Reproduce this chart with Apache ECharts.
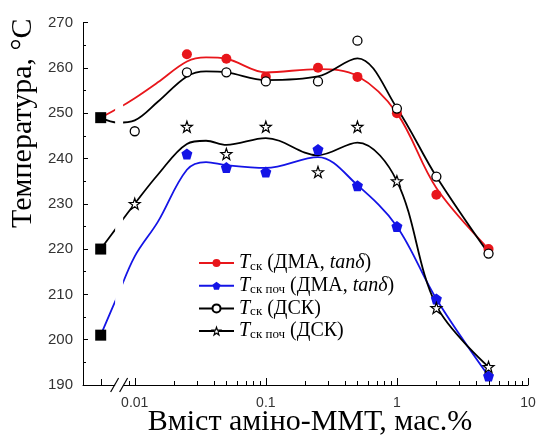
<!DOCTYPE html>
<html><head><meta charset="utf-8">
<script src="https://cdn.jsdelivr.net/npm/echarts@6/dist/echarts.min.js"></script>
<style>html,body{margin:0;padding:0;background:#fff}#c{width:538px;height:436px}</style>
</head><body><div id="c"></div>
<script>
// ---- data ----
const xZero = 0.0055;                 // position used for the unfilled sample (left of the axis break)
const breakAt = 0.0076;               // axis break position
const xValues = [0.01, 0.025, 0.05, 0.1, 0.25, 0.5, 1, 2, 5];
const tgDma      = [null, 263, 262, 258, 260, 258, 250, 232, 220];
const tgOnsetDma = [null, 241, 238, 237, 242, 234, 225, 209, 192];
const tgDsc      = [246, 259, 259, 257, 257, 266, 251, 236, 219];
const tgOnsetDsc = [230, 247, 241, 247, 237, 247, 235, 207, 194];
const neatValues = [249, 220, 201];
// fitted curves
const fitX          = [0.0055, 0.0074, 0.01, 0.015, 0.025, 0.035, 0.05, 0.1, 0.25, 0.5, 1, 2, 5];
const fitTgDma      = [249, 251, 253.3, 256.8, 261.4, 262.3, 262.0, 259.0, 259.7, 258.2, 250.0, 233.5, 220];
const fitTgOnsetDma = [201, 209.7, 218.4, 226, 237.5, 239.2, 238.5, 237.9, 240.3, 234.1, 225, 209, 192];
const fitTgDsc      = [249, 247.9, 248.4, 252.5, 258.1, 259.2, 259.0, 257.3, 258.1, 262.1, 251.1, 236, 219];
const fitTgOnsetDsc = [220, 225, 230, 236.4, 243.2, 243.9, 243.0, 244.5, 240.7, 243.5, 235, 207.5, 194];
const yMin = 190, yMax = 270, yStep = 10;
const xMin = 0.00403, xMax = 10;
const xTickLabels = ['0.01', '0.1', '1', '10'];
const xMajorTicks = [0.01, 0.1, 1, 10];
const xMinorTicks = [0.009, 0.02, 0.03, 0.04, 0.05, 0.06, 0.07, 0.08, 0.09,
  0.2, 0.3, 0.4, 0.5, 0.6, 0.7, 0.8, 0.9, 2, 3, 4, 5, 6, 7, 8, 9];
const seriesNames = ['Tск (ДМА, tanδ)', 'Tск поч (ДМА, tanδ)', 'Tск (ДСК)', 'Tск поч (ДСК)'];
const legendRich = [
  '{i|T}{s|ск}{n| (ДМА, }{i|tanδ}{n|)}',
  '{i|T}{s|ск поч}{n| (ДМА, }{i|tanδ}{n|)}',
  '{i|T}{s|ск}{n| (ДСК)}',
  '{i|T}{s|ск поч}{n| (ДСК)}'
];
const yName = 'Температура, °С';
const xName = 'Вміст аміно-ММТ, мас.%';

// ---- styling ----
const RED = '#e8161b', BLUE = '#1414e6', BLACK = '#000';
const STAR = 'path://M0,-10 L2.35,-3.24 L9.51,-3.09 L3.8,1.24 L5.88,8.09 L0,4 L-5.88,8.09 L-3.8,1.24 L-9.51,-3.09 L-2.35,-3.24 Z';
const PENT = 'path://M0,-10 L9.51,-3.09 L5.88,8.09 L-5.88,8.09 L-9.51,-3.09 Z';

const pts = arr => xValues.map((x, i) => [x, arr[i]]).filter(p => p[1] != null);
const fit = arr => fitX.map((x, i) => [x, arr[i]]);

function fitSeries(name, data, color, symbol, itemStyle) {
  return {
    type: 'line', name, data, smooth: 0.35, showSymbol: false, symbol, symbolSize: 8,
    lineStyle: { color, width: 1.8 }, itemStyle: itemStyle || { color }, z: 2, silent: true
  };
}
function ptSeries(name, data, symbol, size, itemStyle) {
  return { type: 'scatter', name, data, symbol, symbolSize: size,
    itemStyle: Object.assign({ opacity: 1 }, itemStyle), z: 5, silent: true };
}

const option = {
  backgroundColor: '#fff',
  animation: false,
  grid: { left: 83, right: 10, top: 22.5, bottom: 51, outerBoundsMode: 'none' },
  xAxis: {
    type: 'log', logBase: 10, min: xMin, max: xMax,
    name: xName, nameLocation: 'middle', nameGap: 22, nameMoveOverlap: false,
    nameTextStyle: { fontFamily: 'Liberation Serif', fontSize: 30, color: '#000', padding: [0, 0, 0, 9] },
    axisLine: { show: true, onZero: false, lineStyle: { color: '#000', width: 1 } },
    axisTick: { show: false },
    minorTick: { show: false },
    splitLine: { show: false },
    axisLabel: {
      margin: 11, fontFamily: 'Liberation Sans', fontSize: 14, color: '#333',
      showMinLabel: false,
      formatter: v => {
        const s = xTickLabels.find(t => Math.abs(parseFloat(t) - v) < 1e-9 * Math.max(1, v));
        return s || '';
      }
    }
  },
  yAxis: {
    type: 'value', min: yMin, max: yMax, interval: yStep,
    name: yName, nameLocation: 'middle', nameGap: 45, nameMoveOverlap: false,
    nameTextStyle: { fontFamily: 'Liberation Serif', fontSize: 30, color: '#000', padding: [0, 0, 0, 161] },
    axisLine: { show: true, lineStyle: { color: '#000', width: 1 } },
    axisTick: { show: true, inside: true, length: 5, lineStyle: { color: '#000' } },
    minorTick: { show: true, splitNumber: 2, length: 3, lineStyle: { color: '#000' } },
    splitLine: { show: false },
    axisLabel: { margin: 10, fontFamily: 'Liberation Sans', fontSize: 15, color: '#333' }
  },
  legend: {
    orient: 'vertical', left: 193, top: 248, itemWidth: 35, itemHeight: 10, itemGap: 2.7,
    selectedMode: false,
    data: [
      { name: seriesNames[0] },
      { name: seriesNames[1] },
      { name: seriesNames[2] },
      { name: seriesNames[3], itemStyle: { color: '#fff', borderColor: '#000', borderWidth: 1.2 } }
    ],
    formatter: name => legendRich[seriesNames.indexOf(name)],
    textStyle: {
      fontFamily: 'Liberation Serif', fontSize: 20, color: '#000',
      rich: {
        i: { fontFamily: 'Liberation Serif', fontSize: 20, fontStyle: 'italic', color: '#000', lineHeight: 20 },
        n: { fontFamily: 'Liberation Serif', fontSize: 20, color: '#000', lineHeight: 20 },
        s: { fontFamily: 'Liberation Serif', fontSize: 13, color: '#000', verticalAlign: 'bottom', lineHeight: 20, padding: [6, 0, 0, 0] }
      }
    }
  },
  series: [
    fitSeries(seriesNames[0], fit(fitTgDma), RED, 'circle'),
    fitSeries(seriesNames[1], fit(fitTgOnsetDma), BLUE, PENT),
    fitSeries(seriesNames[2], fit(fitTgDsc), BLACK, 'emptyCircle'),
    fitSeries(seriesNames[3], fit(fitTgOnsetDsc), BLACK, STAR, { color: '#fff', borderColor: '#000', borderWidth: 1.2 }),
    ptSeries(seriesNames[0], pts(tgDma), 'circle', 10, { color: RED }),
    ptSeries(seriesNames[1], pts(tgOnsetDma), PENT, 11, { color: BLUE }),
    ptSeries(seriesNames[2], pts(tgDsc), 'circle', 9, { color: '#fff', borderColor: '#000', borderWidth: 1.3 }),
    ptSeries(seriesNames[3], pts(tgOnsetDsc), STAR, 11, { color: '#fff', borderColor: '#000', borderWidth: 1.2 }),
    ptSeries('neat', neatValues.map(v => [xZero, v]), 'rect', 11, { color: '#000' })
  ]
};

const chart = echarts.init(document.getElementById('c'), null, { renderer: 'canvas' });
chart.setOption(option);
const px = v => chart.convertToPixel({ xAxisIndex: 0 }, v);
const bx = px(breakAt);
const yb = chart.convertToPixel({ yAxisIndex: 0 }, yMin);
const yt = chart.convertToPixel({ yAxisIndex: 0 }, yMax);
const tickDefs = xMinorTicks.map(v => [v, 4]).concat(xMajorTicks.map(v => [v, 7])).concat([[xZero, 6]]);
const tickGraphics = tickDefs.map(([v, len]) => {
  const x = Math.round(px(v)) + 0.5;
  const y = Math.round(yb);
  return { type: 'line', silent: true, z: 90, shape: { x1: x, y1: y, x2: x, y2: y - len },
    style: { stroke: '#000', lineWidth: 1 } };
});
chart.setOption({
  graphic: tickGraphics.concat([
    { type: 'rect', silent: true, z: 100, shape: { x: bx - 4, y: yt + 8, width: 8, height: yb - yt - 6 }, style: { fill: '#fff' } },
    { type: 'line', silent: true, z: 101, shape: { x1: bx - 8.5, y1: yb + 7, x2: bx - 0.5, y2: yb - 7 }, style: { stroke: '#000', lineWidth: 1.2 } },
    { type: 'line', silent: true, z: 101, shape: { x1: bx + 0.5, y1: yb + 7, x2: bx + 8.5, y2: yb - 7 }, style: { stroke: '#000', lineWidth: 1.2 } }
  ])
});
</script>
</body></html>
